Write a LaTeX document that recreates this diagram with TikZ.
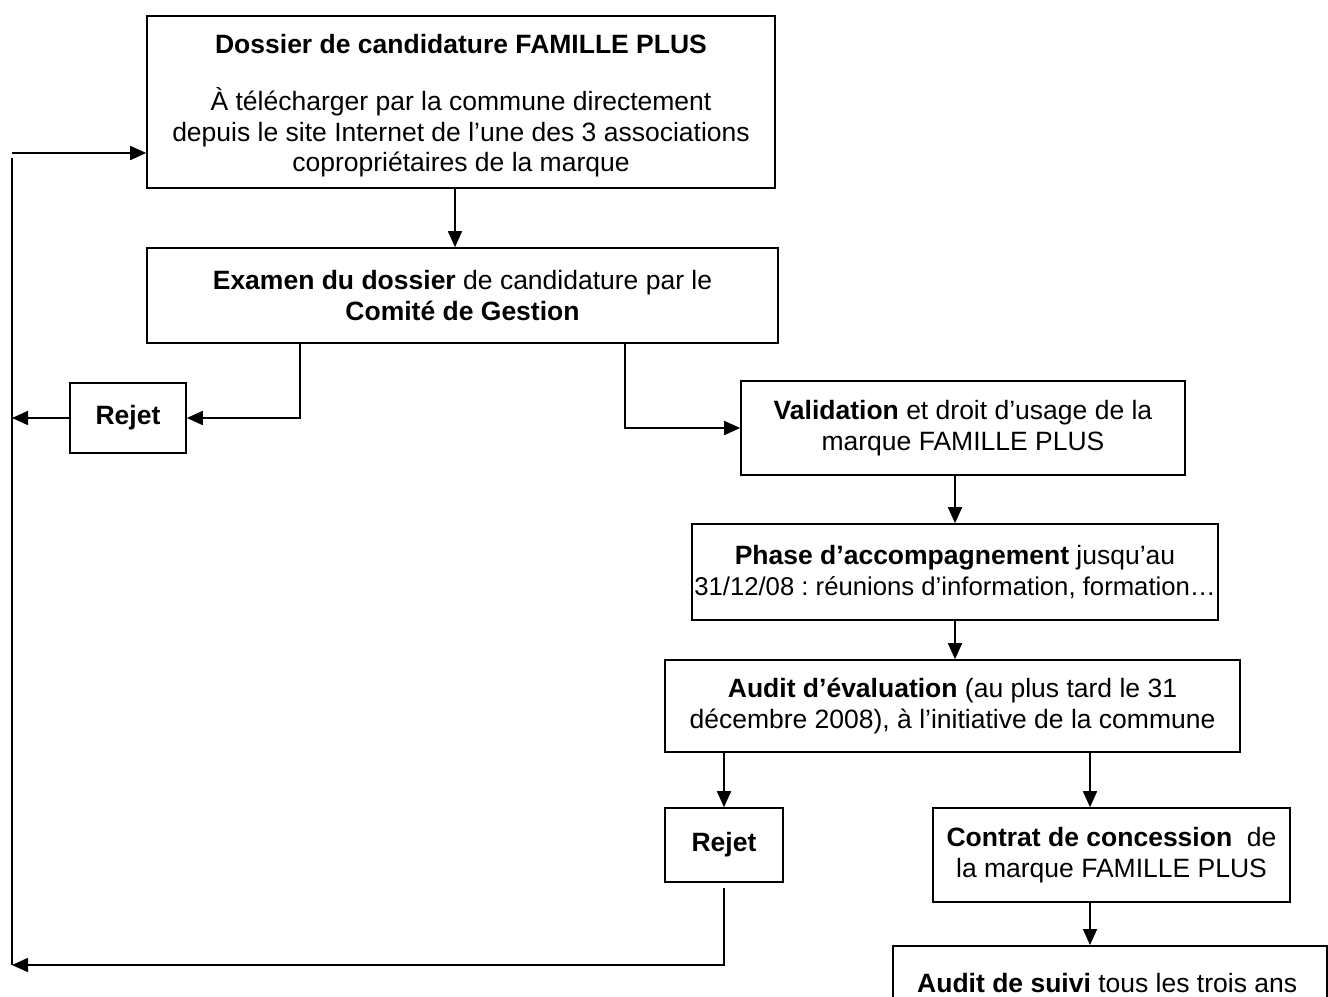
\documentclass[tikz,border=0pt]{standalone}
\usepackage{fontspec}
\setmainfont{Liberation Sans}
\usetikzlibrary{arrows.meta}
\frenchspacing
\begin{document}
\begin{tikzpicture}[x=1pt,y=-1pt,
  box/.style={draw, line width=1.6pt, align=center, inner sep=0pt,
    font=\fontsize{26.5}{30.5}\selectfont},
  arr/.style={line width=1.6pt, -{Triangle[length=16pt,width=14pt]}},
  ln/.style={line width=1.6pt}]
\useasboundingbox (0,0) rectangle (1328,996);
\clip (0,0) rectangle (1328,996);
\node[box, minimum width=628pt, minimum height=172pt] (b1) at (461,102) {};
\node[align=center, inner sep=0pt, font=\fontsize{26.5}{30.5}\selectfont] (b1txt) at (461,105.5)
  {\textbf{Dossier de candidature FAMILLE PLUS}\\[27pt]
   À télécharger par la commune directement\\
   depuis le site Internet de l’une des 3 associations\\
   copropriétaires de la marque};
\node[box, minimum width=631pt, minimum height=95pt] (b2) at (462.5,295.5)
  {\textbf{Examen du dossier} de candidature par le\\
   \textbf{Comité de Gestion}};
\node[box, minimum width=116pt, minimum height=70pt] (rej1) at (128,418) {\textbf{Rejet}};
\node[box, minimum width=444pt, minimum height=94pt] (val) at (963,428)
  {\textbf{Validation} et droit d’usage de la\\ marque FAMILLE PLUS};
\node[box, minimum width=526pt, minimum height=96pt] (phase) at (955,572)
  {\textbf{Phase d’accompagnement} jusqu’au\\ {\fontsize{25.7}{30.5}\selectfont 31/12/08 : réunions d’information, formation…}};
\node[box, minimum width=575pt, minimum height=92pt] (audit) at (952.5,706)
  {\textbf{Audit d’évaluation} (au plus tard le 31\\ décembre 2008), à l’initiative de la commune};
\node[box, minimum width=118pt, minimum height=74pt] (rej2) at (724,845) {\textbf{Rejet}};
\node[box, minimum width=357pt, minimum height=94pt] (contrat) at (1111.5,855)
  {\textbf{Contrat de concession}\ \ de\\ la marque FAMILLE PLUS};
\node[box, minimum width=434pt, minimum height=100pt, anchor=north] (suivi) at (1110,945) {};
\node[anchor=west, inner sep=0pt, font=\fontsize{26.5}{30.5}\selectfont] (suivitxt) at (917,983)
  {\textbf{Audit de suivi} tous les trois ans};
\coordinate (a1) at (455,0);
\coordinate (c300) at (300,0);
\coordinate (c625) at (625,0);
\coordinate (c955) at (955,0);
\coordinate (c1090) at (1090,0);
\coordinate (Lin) at (12,153);
\coordinate (Ltop) at (12,158);
\coordinate (Lbot) at (12,965);
\draw[arr] (b1.south -| a1) -- (b2.north -| a1);
\draw[arr] (b2.south -| c300) |- (rej1.east);
\draw[arr] (b2.south -| c625) |- (val.west);
\draw[arr] (rej1.west) -- (rej1.west -| Ltop);
\draw[arr] (val.south -| c955) -- (phase.north -| c955);
\draw[arr] (phase.south -| c955) -- (audit.north -| c955);
\draw[arr] (audit.south -| rej2) -- (rej2.north);
\draw[arr] (audit.south -| c1090) -- (contrat.north -| c1090);
\draw[arr] (contrat.south -| c1090) -- (suivi.north -| c1090);
\draw[arr] ([yshift=-5pt]rej2.south) |- (Lbot);
\draw[ln] (Ltop) -- (Lbot);
\draw[arr] (Lin) -- (Lin -| b1.west);
\end{tikzpicture}
\end{document}
